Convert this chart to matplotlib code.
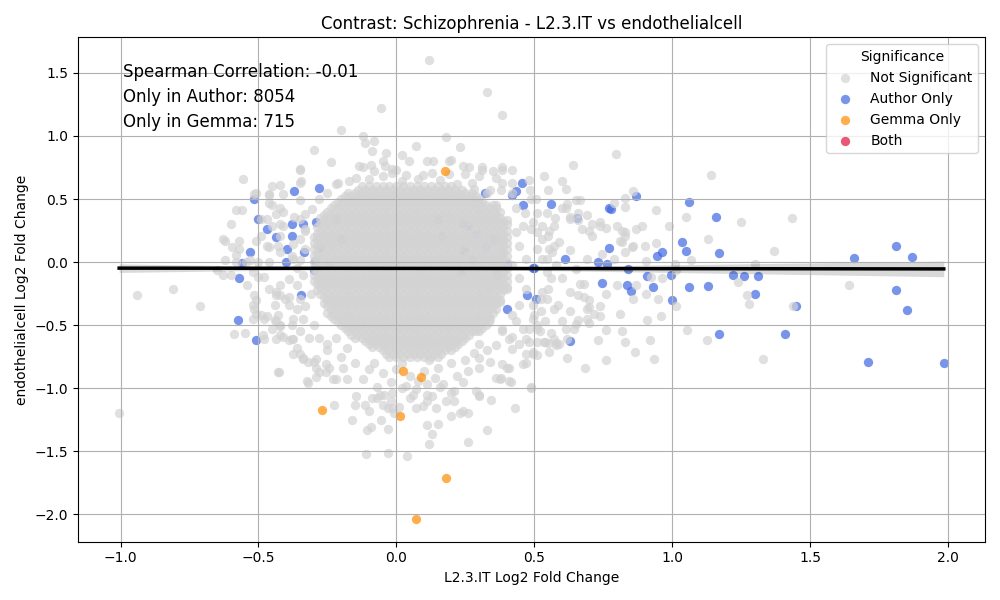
import numpy as np
import matplotlib
matplotlib.use("Agg")
import matplotlib.pyplot as plt

title = "Contrast: Schizophrenia - L2.3.IT vs endothelialcell"
xlabel = "L2.3.IT Log2 Fold Change"
ylabel = "endothelialcell Log2 Fold Change"
categories = ["Not Significant", "Author Only", "Gemma Only", "Both"]
cat_colors = ["lightgrey", "royalblue", "darkorange", "crimson"]
spearman = -0.01
only_author = 8054
only_gemma = 715

# dense central cloud of non-significant genes: x positions of two staggered column sets
core_cols_a = [-0.3, -0.275, -0.25, -0.225, -0.2, -0.175, -0.15, -0.125, -0.1, -0.075, -0.05,
               -0.025, 0.0, 0.025, 0.05, 0.075, 0.1, 0.125, 0.15, 0.175, 0.2, 0.225, 0.25,
               0.275, 0.3, 0.325, 0.35, 0.375, 0.4]
core_cols_b = [-0.2875, -0.2625, -0.2375, -0.2125, -0.1875, -0.1625, -0.1375, -0.1125, -0.0875,
               -0.0625, -0.0375, -0.0125, 0.0125, 0.0375, 0.0625, 0.0875, 0.1125, 0.1375,
               0.1625, 0.1875, 0.2125, 0.2375, 0.2625, 0.2875, 0.3125, 0.3375, 0.3625, 0.3875]
# rows of the cloud: y value, column set, first column, end column
core_rows = [
    (0.600, "a", 7, 21), (0.575, "b", 6, 22), (0.550, "a", 5, 24), (0.525, "b", 4, 24),
    (0.500, "a", 4, 25), (0.475, "b", 3, 25), (0.450, "a", 3, 27), (0.425, "b", 2, 27),
    (0.400, "a", 2, 28), (0.375, "b", 1, 27), (0.350, "a", 1, 28), (0.325, "b", 1, 28),
    (0.300, "a", 1, 29), (0.275, "b", 0, 28), (0.250, "a", 1, 29), (0.225, "b", 0, 28),
    (0.200, "a", 0, 29), (0.175, "b", 0, 28), (0.150, "a", 0, 29), (0.125, "b", 0, 28),
    (0.100, "a", 0, 29), (0.075, "b", 0, 28), (0.050, "a", 0, 29), (0.025, "b", 0, 28),
    (0.000, "a", 0, 29), (-0.025, "b", 0, 28), (-0.050, "a", 0, 29), (-0.075, "b", 0, 28),
    (-0.100, "a", 0, 29), (-0.125, "b", 0, 28), (-0.150, "a", 0, 29), (-0.175, "b", 0, 28),
    (-0.200, "a", 1, 29), (-0.225, "b", 0, 28), (-0.250, "a", 1, 28), (-0.275, "b", 1, 27),
    (-0.300, "a", 2, 28), (-0.325, "b", 1, 27), (-0.350, "a", 2, 27), (-0.375, "b", 2, 27),
    (-0.400, "a", 2, 27), (-0.425, "b", 2, 26), (-0.450, "a", 3, 26), (-0.475, "b", 3, 26),
    (-0.500, "a", 4, 26), (-0.525, "b", 4, 25), (-0.550, "a", 5, 25), (-0.575, "b", 5, 23),
    (-0.600, "a", 6, 23), (-0.625, "b", 7, 22), (-0.650, "a", 8, 22), (-0.675, "b", 8, 21),
    (-0.700, "a", 10, 21), (-0.725, "b", 10, 19), (-0.750, "a", 11, 19),
]

# scattered non-significant genes around the cloud (x, y)
grey_outer = [
    (-1.005, -1.20), (-0.94, -0.26), (-0.81, -0.21), (-0.71, -0.35), (0.12, 1.60), (0.33, 1.35),
    (0.385, 1.17), (-0.055, 1.22), (-0.20, 1.05), (0.18, 0.99), (0.23, 0.91), (-0.12, 1.0),
    (-0.115, 0.945), (-0.08, 0.96), (-0.087, 0.88), (-0.30, 0.89), (-0.235, 0.79), (-0.35, 0.73),
    (-0.555, 0.66), (0.07, 0.92), (0.02, 0.85), (0.047, 0.80), (0.11, 0.80), (0.134, 0.80),
    (0.19, 0.80), (-0.05, 0.80), (-0.04, 0.76), (-0.09, 0.77), (-0.12, 0.75), (-0.015, 0.74),
    (0.24, 0.76), (0.265, 0.755), (0.31, 0.73), (0.35, 0.72), (0.385, 0.73), (0.42, 0.73),
    (-0.35, 0.63), (-0.42, 0.61), (-0.45, 0.60), (-0.51, 0.55), (-0.46, 0.53), (-0.58, 0.41),
    (-0.56, 0.41), (-0.60, 0.30), (-0.63, 0.18), (-0.62, 0.165), (-0.57, 0.17), (-0.58, 0.06),
    (-0.62, 0.02), (-0.65, -0.06), (-0.45, 0.45), (-0.42, 0.43), (-0.435, 0.38), (-0.49, 0.34),
    (-0.45, 0.29), (-0.41, 0.29), (-0.42, 0.21), (-0.51, 0.17), (-0.49, 0.21), (-0.47, 0.13),
    (-0.43, 0.13), (-0.53, 0.02), (-0.50, 0.0), (-0.46, 0.0),
    (-0.63, -0.10), (-0.54, -0.18), (-0.59, -0.57), (-0.55, -0.56), (-0.43, -0.87), (-0.32, -0.96),
    (-0.29, -0.91), (-0.225, -1.13), (-0.16, -1.25), (-0.105, -1.33), (-0.09, -1.31), (-0.11, -1.52),
    (-0.03, -1.51), (0.04, -1.54), (-0.03, -1.32), (-0.055, -1.25), (0.11, -1.29), (0.13, -1.36),
    (0.15, -1.28), (0.12, -1.44), (0.26, -1.43), (0.33, -1.33), (0.43, -1.16), (0.20, -1.22),
    (0.23, -1.20), (0.26, -1.20), (0.345, -1.09), (0.29, -1.02), (0.30, -1.06), (0.41, -0.94),
    (0.36, -0.92), (0.38, -0.92),
    (-0.145, -1.06), (-0.15, -1.13), (-0.10, -1.18), (-0.05, -1.13), (-0.015, -1.16), (0.01, -1.15),
    (-0.087, -1.08), (-0.06, -1.05), (-0.045, -1.05), (-0.02, -1.10), (0.095, -1.14), (0.11, -1.10),
    (0.13, -1.06), (0.145, -1.16), (0.18, -1.10), (0.21, -1.02), (0.21, -1.10), (0.20, -1.04),
    (0.16, -0.99), (0.11, -0.97), (0.06, -1.05), (0.07, -1.01), (0.05, -1.08), (0.035, -0.98),
    (-0.015, -1.04),
    (-0.50, -0.12), (-0.46, -0.21), (-0.42, -0.26), (-0.39, -0.28), (-0.52, -0.34), (-0.51, -0.41),
    (-0.48, -0.45), (-0.44, -0.46), (-0.42, -0.51), (-0.38, -0.50), (-0.48, -0.61), (-0.435, -0.61),
    (-0.38, -0.61), (-0.36, -0.68), (-0.34, -0.76), (-0.30, -0.79), (-0.29, -0.84), (-0.255, -0.87),
    (-0.23, -0.93), (-0.18, -0.93),
    (1.64, -0.18), (1.44, -0.35), (1.33, -0.77), (1.125, -0.62), (1.055, -0.54), (1.015, -0.35),
    (0.935, -0.77), (0.92, -0.62), (0.91, -0.46), (0.96, -0.43), (0.865, -0.71), (0.83, -0.63),
    (0.82, -0.55), (0.81, -0.41), (0.76, -0.78), (0.685, -0.84), (0.76, -0.54), (0.73, -0.62),
    (0.62, -0.76), (0.49, -0.99), (0.415, -0.95), (0.40, -0.84), (0.51, -0.74), (0.47, -0.80),
    (0.56, -0.56), (0.58, -0.64), (0.54, -0.63), (0.62, -0.61), (0.645, -0.53), (0.66, -0.46),
    (0.69, -0.45), (0.70, -0.48), (0.715, -0.41), (0.74, -0.35), (0.70, -0.30), (0.66, -0.26),
    (0.68, -0.17), (0.76, -0.25), (0.80, -0.18), (0.86, -0.29), (0.87, -0.18), (0.905, -0.25),
    (0.95, -0.29), (0.965, -0.13), (1.015, -0.06), (1.24, -0.16), (1.27, -0.26), (1.28, -0.33),
    (1.30, -0.015),
    (0.375, -0.93), (0.385, -0.53), (0.435, -0.47), (0.48, -0.53), (0.51, -0.63), (0.445, -0.65),
    (0.47, -0.73), (0.42, -0.59), (0.52, -0.55), (0.57, -0.61), (0.59, -0.65), (0.615, -0.53),
    (0.54, -0.47), (0.525, -0.39), (0.63, -0.39), (0.57, -0.37), (0.65, -0.49), (0.68, -0.28),
    (0.74, -0.43), (0.69, -0.37),
    (0.795, 0.86), (0.64, 0.77), (1.14, 0.69), (1.435, 0.35), (1.25, 0.32), (1.13, 0.18),
    (1.37, 0.09), (1.05, 0.36), (0.99, 0.29), (0.94, 0.41), (0.90, 0.13), (0.94, 0.15),
    (0.905, 0.01), (1.07, 0.015), (0.86, 0.56), (0.83, 0.51), (0.83, 0.44), (0.79, 0.47),
    (0.89, 0.29), (0.87, 0.26), (0.83, 0.24), (0.81, 0.17), (0.86, 0.13), (0.82, 0.16),
    (0.83, 0.08), (0.79, 0.025), (0.745, 0.065), (0.71, 0.21), (0.675, 0.26), (0.74, 0.29),
    (0.76, 0.27), (0.66, 0.39), (0.69, 0.37), (0.65, 0.49), (0.62, 0.46), (0.60, 0.43),
    (0.63, 0.34), (0.575, 0.35), (0.55, 0.57), (0.535, 0.68), (0.60, 0.64), (0.615, 0.58),
    (0.48, 0.65), (0.485, 0.57), (0.505, 0.50), (0.465, 0.39), (0.49, 0.26), (0.53, 0.18),
    (0.57, 0.13),
    (0.665, 0.49), (0.615, 0.43), (0.63, 0.355), (0.66, 0.33), (0.71, 0.30), (0.74, 0.315),
    (0.70, 0.25), (0.80, 0.29), (0.82, 0.25), (0.83, 0.21), (0.855, 0.12), (1.01, -0.015),
    (0.925, -0.12), (0.60, -0.47), (0.585, -0.34), (0.63, -0.24), (0.70, -0.355), (0.665, -0.17),
    (0.60, -0.13), (0.56, -0.13), (0.65, -0.055), (0.69, 0.025), (0.63, 0.095), (0.59, 0.16),
    (0.55, 0.21), (0.565, 0.08), (0.53, 0.025), (0.58, -0.025), (0.55, -0.21), (0.525, -0.29),
    (0.495, -0.34), (0.51, -0.53), (0.48, -0.63), (0.55, -0.645), (0.58, -0.655),
    (0.31, 0.75), (0.385, 0.75), (0.275, 0.63), (0.385, 0.63), (0.34, 0.57), (0.38, 0.57),
    (0.42, 0.55), (0.49, 0.50), (0.29, 0.47), (0.36, 0.45), (0.435, 0.43), (0.51, 0.39),
    (0.545, 0.39), (0.29, 0.34), (0.40, 0.33), (0.46, 0.29), (0.495, 0.315), (0.53, 0.29),
    (0.30, 0.16), (0.38, 0.18), (0.435, 0.235), (0.51, 0.235), (0.555, 0.25), (0.57, 0.29),
    (0.445, 0.13), (0.51, 0.10), (0.555, 0.10), (0.47, 0.025), (0.545, 0.025), (0.385, 0.08),
    (0.325, 0.08), (0.42, -0.025), (0.545, -0.08), (0.445, -0.13), (0.36, -0.10), (0.275, -0.08),
    (0.34, -0.21), (0.40, -0.21), (0.47, -0.21), (0.53, -0.24), (0.30, -0.315), (0.375, -0.315),
    (0.445, -0.34), (0.42, -0.42), (0.34, -0.45), (0.495, -0.45), (0.29, -0.55), (0.385, -0.55),
    (0.46, -0.53), (0.36, -0.655), (0.42, -0.685), (0.495, -0.71), (0.30, -0.76), (0.385, -0.81),
    (0.46, -0.81), (0.555, -0.71),
    (-0.35, 0.74), (-0.345, 0.64), (-0.46, 0.54), (-0.515, 0.54), (-0.35, 0.49), (-0.41, 0.40),
    (-0.37, 0.355), (-0.42, 0.30), (-0.595, 0.12), (-0.57, 0.10), (-0.46, 0.12), (-0.42, 0.08),
    (-0.375, 0.14), (-0.60, -0.10), (-0.58, 0.0), (-0.545, 0.0), (-0.48, -0.12), (-0.42, -0.18),
    (-0.435, -0.26), (-0.405, -0.29), (-0.44, -0.34), (-0.39, -0.34), (-0.51, -0.30), (-0.515, -0.37),
    (-0.52, -0.45), (-0.47, -0.43), (-0.43, -0.42), (-0.42, -0.50), (-0.45, -0.53), (-0.41, -0.59),
    (-0.485, -0.575), (-0.39, -0.615), (-0.35, -0.73), (-0.32, -0.79), (-0.29, -0.77), (-0.28, -0.87),
    (-0.255, -0.81), (-0.425, -0.87), (-0.325, -0.945),
    (-0.35, 0.34), (-0.33, 0.38), (-0.305, 0.42), (-0.33, 0.26), (-0.35, 0.18), (-0.375, 0.025),
    (-0.35, 0.015), (-0.39, -0.135), (-0.36, -0.18), (-0.35, -0.29), (-0.36, -0.37), (-0.34, -0.45),
    (-0.35, -0.55), (-0.315, -0.60), (-0.375, -0.45),
    (-0.037, 0.865), (-0.135, 0.76), (0.20, 0.81), (0.30, 0.68), (0.36, 0.67), (0.42, 0.63),
    (-0.015, 0.71), (0.035, 0.69), (0.095, 0.69), (0.13, 0.71), (-0.17, 0.645), (-0.21, 0.63),
    (-0.145, 0.67), (-0.10, 0.655), (-0.41, 0.54), (-0.46, 0.47), (-0.47, 0.34), (-0.52, -0.08),
    (-0.515, -0.26), (-0.435, -0.24), (-0.49, -0.42), (-0.435, -0.47), (-0.42, -0.575), (-0.375, -0.61),
    (-0.375, -0.73), (-0.34, -0.77), (-0.245, -0.84), (-0.22, -0.93), (-0.195, -0.84), (-0.115, -1.13),
    (-0.07, -1.08), (-0.03, -1.16), (-0.01, -1.20), (0.07, -1.16), (0.11, -1.05), (0.17, -0.97),
    (0.24, -1.18), (0.30, -1.05), (0.49, -1.0), (0.41, -0.84), (0.34, -0.79), (0.30, -0.84),
    (0.495, -0.73), (0.535, -0.63), (0.47, -0.61), (0.41, -0.61), (0.51, -0.50), (0.545, -0.29),
    (0.50, -0.42),
    (-0.20, -0.75), (-0.15, -0.80), (-0.10, -0.85), (-0.05, -0.88), (0.0, -0.85), (0.05, -0.90),
    (0.10, -0.86), (0.15, -0.84), (0.20, -0.80), (0.25, -0.78), (0.28, -0.72), (-0.12, -0.93),
    (-0.02, -0.95), (0.08, -0.94), (0.14, -0.92), (0.22, -0.90), (-0.18, -0.68), (-0.25, -0.70),
    (0.30, -0.65), (0.33, -0.70), (0.26, -0.86), (-0.08, -0.80), (0.02, -0.80), (0.12, -0.78),
    (-0.07, -0.99), (0.02, -1.0), (0.24, -0.95),
    (-0.05, 0.68), (0.02, 0.64), (0.08, 0.66), (0.16, 0.65), (0.22, 0.62), (0.28, 0.58),
    (0.33, 0.55), (-0.25, 0.55), (-0.28, 0.50), (-0.22, 0.62), (0.0, 0.73), (0.19, 0.70),
    (0.25, 0.70), (-0.08, 0.72),
    (-0.33, 0.10), (-0.36, -0.05), (-0.34, -0.10), (-0.38, 0.05), (-0.33, 0.25), (-0.31, -0.25),
    (-0.33, -0.35), (-0.30, -0.50), (-0.28, -0.60), (-0.25, -0.65), (-0.22, -0.60),
]

# significant only in the author's analysis
author_pts = [
    (-0.57, -0.13), (-0.575, -0.46), (-0.51, -0.62), (-0.345, -0.26), (-0.515, 0.50), (-0.37, 0.56),
    (-0.28, 0.59), (-0.50, 0.34), (-0.47, 0.26), (-0.435, 0.20), (-0.38, 0.30), (-0.34, 0.30),
    (-0.29, 0.32), (-0.38, 0.21), (-0.53, 0.08), (-0.395, 0.10), (-0.335, 0.08), (-0.56, -0.01),
    (-0.40, 0.0), (-0.295, 0.005), (-0.22, 0.345), (-0.275, 0.11), (-0.30, -0.06), (-0.20, 0.18),
    (-0.245, -0.02), (0.165, 0.21), (0.245, 0.095), (0.235, -0.08),
    (0.32, 0.55), (0.455, 0.63), (0.435, 0.56), (0.42, 0.53), (0.46, 0.45), (0.475, -0.26),
    (0.505, -0.29), (0.40, -0.37), (0.24, 0.31), (0.26, 0.29), (0.29, 0.22), (0.355, 0.18),
    (0.325, 0.12), (0.36, -0.10), (0.495, -0.05), (0.15, 0.34), (0.56, 0.46), (0.40, -0.015),
    (0.275, 0.015),
    (0.655, 0.35), (0.87, 0.52), (0.77, 0.43), (0.78, 0.42), (1.06, 0.48), (0.77, 0.11),
    (0.73, 0.0), (0.765, -0.015), (0.84, -0.055), (0.91, -0.11), (0.745, -0.165), (0.835, -0.18),
    (0.85, -0.23), (0.93, -0.20), (0.945, 0.045), (0.965, 0.08), (1.035, 0.16), (1.05, 0.09),
    (0.995, -0.10), (1.06, -0.20), (1.0, -0.30), (1.13, -0.19), (0.63, -0.625), (0.61, 0.025),
    (0.50, -0.045), (0.365, -0.11),
    (1.22, -0.10), (1.26, -0.11), (1.31, -0.11), (1.30, -0.25), (1.45, -0.35), (1.17, -0.57),
    (1.41, -0.57), (1.71, -0.79), (1.985, -0.80), (1.81, -0.22), (1.85, -0.38), (1.16, 0.36),
    (1.17, 0.07), (1.66, 0.03), (1.81, 0.13), (1.87, 0.04),
]

# significant only in Gemma
gemma_pts = [(0.175, 0.725), (0.025, -0.86), (0.09, -0.91), (-0.27, -1.17), (0.015, -1.22),
             (0.18, -1.71), (0.07, -2.035)]

# significant in both
both_pts = []

# regression fit (line and confidence band)
fit_intercept = -0.05
fit_slope = -0.002
fit_xmean = 0.05
ci_base = 0.003
ci_growth = 0.032


def split(pts):
    if not pts:
        return np.array([]), np.array([])
    a = np.array(pts, dtype=float)
    return a[:, 0], a[:, 1]


core_x_list, core_y_list = [], []
for y, which, i0, i1 in core_rows:
    cols = core_cols_a if which == "a" else core_cols_b
    for x in cols[i0:i1]:
        core_x_list.append(x)
        core_y_list.append(y)
ox, oy = split(grey_outer)
grey_x = np.concatenate([np.array(core_x_list), ox])
grey_y = np.concatenate([np.array(core_y_list), oy])
au_x, au_y = split(author_pts)
gm_x, gm_y = split(gemma_pts)
bo_x, bo_y = split(both_pts)

fig, ax = plt.subplots(figsize=(10, 6), dpi=100)
ms = 45
h_auth = ax.scatter(au_x, au_y, s=ms, c=cat_colors[1], alpha=0.7, linewidths=0, label=categories[1])
h_grey = ax.scatter(grey_x, grey_y, s=ms, c=cat_colors[0], alpha=0.7, linewidths=0, label=categories[0])
h_gem = ax.scatter(gm_x, gm_y, s=ms, c=cat_colors[2], alpha=0.7, linewidths=0, label=categories[2])
h_both = ax.scatter(bo_x, bo_y, s=ms, c=cat_colors[3], alpha=0.7, linewidths=0, label=categories[3])

all_x = np.concatenate([grey_x, au_x, gm_x])
xs = np.linspace(all_x.min(), all_x.max(), 100)
ys = fit_intercept + fit_slope * xs
half = np.sqrt(ci_base ** 2 + (ci_growth * (xs - fit_xmean)) ** 2)
ax.fill_between(xs, ys - half, ys + half, color="black", alpha=0.15, linewidth=0)
ax.plot(xs, ys, color="black", linewidth=2.5)

ax.text(0.05, 0.95, f"Spearman Correlation: {spearman:.2f}", transform=ax.transAxes,
        fontsize=12, va="top")
ax.text(0.05, 0.90, f"Only in Author: {only_author}", transform=ax.transAxes,
        fontsize=12, va="top")
ax.text(0.05, 0.85, f"Only in Gemma: {only_gemma}", transform=ax.transAxes,
        fontsize=12, va="top")

ax.set_title(title)
ax.set_xlabel(xlabel)
ax.set_ylabel(ylabel)
ax.grid(True)
ax.legend(handles=[h_grey, h_auth, h_gem, h_both], labels=categories, title="Significance",
          loc="upper right")
fig.tight_layout()
fig.savefig("out.png")
